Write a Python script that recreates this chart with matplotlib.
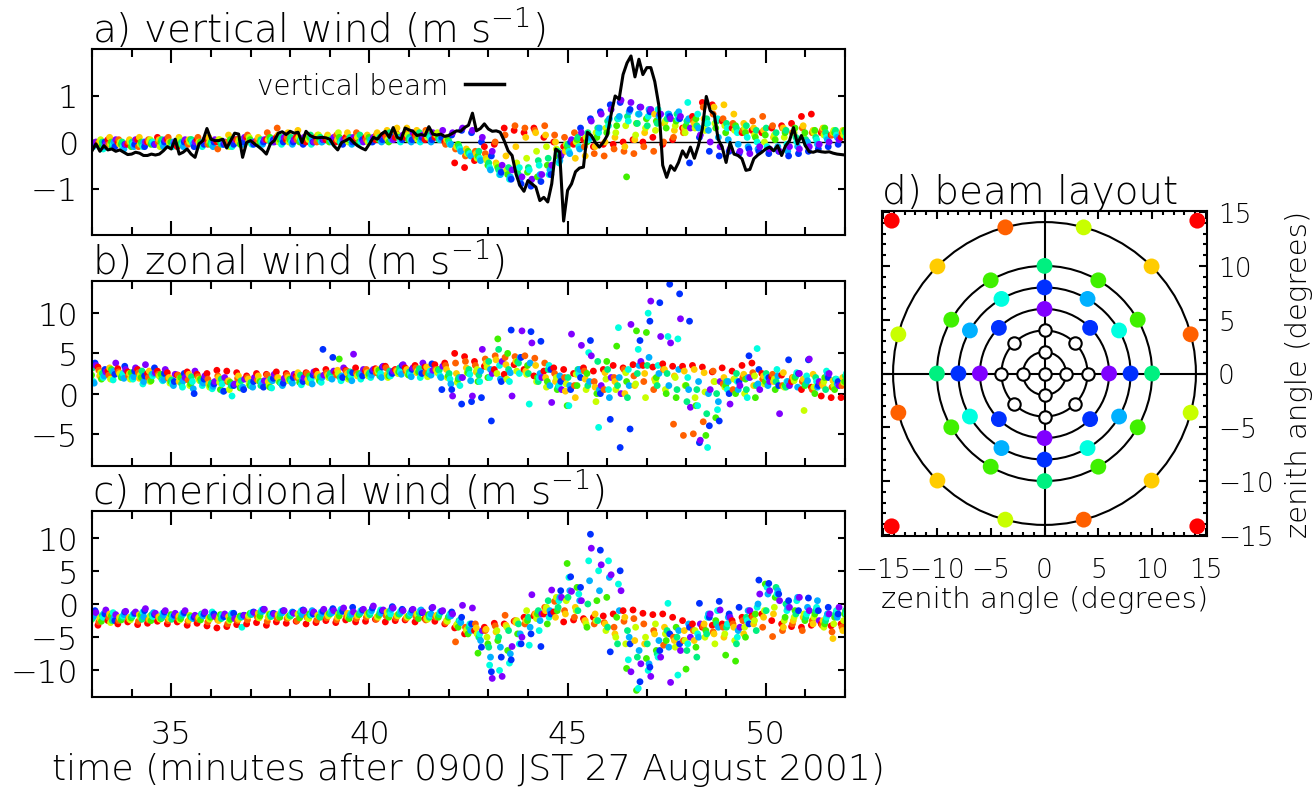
"""
Vento medido por feixes de radar (MU radar) - 27 agosto 2001
Tres series temporais (vertical, zonal, meridional) + layout dos feixes
"""

import numpy as np
import matplotlib
matplotlib.use("Agg")
import matplotlib.pyplot as plt
from matplotlib.lines import Line2D
from matplotlib.patches import Circle
from matplotlib.ticker import MultipleLocator, NullLocator

plt.rcParams['font.family'] = ['DejaVu Sans']
plt.rcParams['font.weight'] = 'light'
plt.rcParams['axes.titleweight'] = 'light'
plt.rcParams['axes.labelweight'] = 'light'
plt.rcParams['mathtext.fontset'] = 'dejavusans'

# ============================================================================
# DADOS
# ============================================================================
# feixe vertical (linha preta), cm/s, a cada 0.1 min a partir de 33.0
LINE_T0, LINE_DT = 33.0, 0.1
vertical_beam = [
    -19, -4, -20, -8, -17, -15, -20, -17, -22, -27,
    -26, -22, -24, -29, -29, -26, -28, -26, -19, -10,
    -15, 6, -26, -22, -15, -26, -33, -4, 3, 29,
    6, 3, 3, 6, -13, 3, 19, 17, -33, -1,
    3, -4, -10, -17, -26, -4, 3, 19, 22, 16,
    23, 19, 21, -1, 23, 14, 10, 9, 10, 9,
    6, -8, -17, -1, 3, 8, -1, -8, -13, -17,
    -4, 10, 6, 17, 23, 10, 31, 10, 6, 30,
    26, 23, 14, 16, 14, 33, 17, 15, 17, 12,
    14, 19, 24, 23, 31, 36, 62, 24, 29, 39,
    28, 23, 24, 21, 3, -19, -29, -69, -94, -106,
    -83, -90, -97, -126, -119, -129, -90, -15, -22, -170,
    -104, -90, -64, -56, -54, 21, 14, -1, -11, -1,
    14, 60, 99, 92, 145, 170, 185, 140, 178, 145,
    160, 160, 130, 80, -50, -76, -51, -61, -44, -19,
    -33, -11, -35, -8, 28, 98, 67, 60, 6, -11,
    -44, -1, -26, -29, -36, -61, -59, -36, -28, -22,
    -15, -11, -19, -8, -29, -8, 3, 31, -4, 14,
    -8, -21, -22, -19, -21, -22, -21, -24, -26, -27,
    -28,
]

# pontos dos feixes obliquos: a cada 0.25 min a partir de 33.0
DOT_T0, DOT_DT = 33.0, 0.25
beam_colors = ['#ff0000', '#ff6000', '#ffcc00', '#c8ff00', '#40f000',
               '#00f080', '#00ffe0', '#00b0ff', '#0030ff', '#8000ff']

# a) vento vertical, cm/s (uma linha por cor)
vert_dots = [
    [0, -5, 5, 0, -5, 5, 0, 10, 5, -10, 0, 5, 5, 0, -5, 5, 10, 0, 5, 10, 5, 10, 0, 10, 5, 0, 10, 5, 10, 5, 15, 10, 10, 15, 5, 10,
     0, -45, -55, -40, -10, -5, 30, 25, 20, 30, 10, 0, -10, -5, 5, -10, -5, -5, 0, 5, 0, 10, -5, 5, 30, 55, 85, 80, 45, 30, 20, 25,
     20, 30, 35, 40, 55, 60, 20, 15, 10],
    [-10, 0, -5, 5, 0, -10, 5, 0, 10, 0, -5, 10, -5, -15, 0, 5, 15, 5, 20, 30, 10, 5, 15, 0, 10, 15, 5, 20, 5, 15, 10, 20, 20, 10, 25, 15,
     -5, -15, -30, -20, -25, 0, 15, 35, 30, 25, 35, 15, 10, 20, -10, -25, -30, -15, -20, -25, -10, -20, 0, 10, 20, 45, 75, 60, 50, 40, 25, 45,
     55, 35, 30, 20, 30, 20, 25, 15, 20],
    [5, 0, 10, -5, 5, 10, 0, 5, 0, 10, 5, 0, 10, 5, 15, 0, 0, 10, 5, 15, 20, 25, 10, 15, 15, 5, 20, 10, 15, 20, 25, 30, 30, 25, 20, 15,
     5, -10, -15, -25, -35, -45, -30, -10, 10, 20, 15, 0, -20, -35, -30, -10, 0, 10, -10, 5, 20, 60, 40, 25, 30, 40, 50, 75, 80, 60, 40, 30,
     25, 10, 30, 20, 35, 25, 30, 20, 25],
    [-10, 5, -5, 0, 0, -5, 5, -10, -5, 5, 0, -5, 0, 5, -10, 5, 10, -5, 5, 0, 0, 10, 5, 15, 10, 20, 0, 10, 0, 10, 5, 15, 15, 5, 10, 20,
     10, -10, -25, -35, -40, -50, -60, -45, -35, -20, -10, -15, -5, 0, 10, 20, 30, 20, 35, 15, 30, 25, 45, 35, 20, 30, 25, 40, 35, 25, 30, 15,
     0, 15, 10, 20, 10, 20, 15, 25, 15],
    [0, -10, 0, -5, -10, 0, -5, 0, 0, -5, 5, 0, -5, 0, 5, -5, 5, 0, 10, 5, 5, 0, 10, 5, 0, 10, 5, 0, 10, 5, 0, 10, 5, 10, 15, 10,
     5, -5, -20, -30, -50, -55, -70, -60, -65, -75, -50, -30, -10, 5, 0, 10, 20, 35, -75, 40, 50, 45, 30, 45, 35, 50, 40, 30, 20, 35, 20, 10,
     15, 5, 20, 30, 20, 25, 30, 20, 25],
    [-5, 0, -10, 0, 0, -5, 0, 5, -10, 0, 5, -5, 0, -5, 0, 5, 0, 5, 0, 10, 10, 5, 15, 10, 5, 0, 10, 15, 5, 10, 20, 10, 10, 20, 15, 5,
     0, -10, -25, -20, -45, -60, -55, -70, -55, -40, -35, -20, -5, 10, 20, 30, 45, 50, 55, 40, 35, 40, 50, 60, 45, 35, 50, 45, 40, 30, 35, 25,
     30, 20, 25, 10, 5, 10, 20, 25, 20],
    [-10, -15, -5, -10, -5, -10, 0, -5, -10, -5, 0, -10, -5, 0, -10, 0, -5, 0, 5, -5, 0, 5, -5, 0, 5, 0, 5, 0, 0, 5, 10, 0, 5, 0, 10, 5,
     -5, -15, -25, -35, -55, -70, -80, -55, -60, -50, -70, -45, -20, -10, 5, 20, 35, 50, 45, 60, 55, 70, 60, 50, 85, 60, 40, 50, 30, 20, 10, 0,
     -10, -15, -5, 0, -5, 5, 10, 15, 10],
    [-5, -10, 0, -15, -10, 0, -5, -10, 0, -10, -5, 0, -10, -5, 0, -5, 0, -5, 0, 5, -5, 0, 5, 0, 0, 5, -5, 5, 5, 0, 5, 10, 0, 5, 0, 5,
     -5, -20, -30, -40, -60, -70, -75, -80, -85, -70, -60, -40, -25, -15, 10, 30, 50, 55, 65, 60, 70, 55, 60, 65, 50, 30, 25, 10, 5, -5, -10, -15,
     -15, -10, -20, -10, 0, -5, 5, 10, 5],
    [-5, 0, -10, -5, -5, -10, -5, 0, -5, 0, -10, -5, 0, -5, -5, 0, -5, 0, 5, 0, 0, -5, 0, 5, 5, -5, 0, 5, 0, 5, 10, 5, 5, 10, 5, 10,
     15, 25, 20, 0, -30, -65, -80, -90, -95, -85, -70, -30, 0, 30, 50, 65, 80, 85, 70, 75, 65, 60, 55, 50, -45, 10, -20, -30, -20, -25, -15, -20,
     -25, -20, -30, -25, -20, -15, -10, -5, -5],
    [0, -5, 5, -5, 5, 0, -5, 5, 0, 5, 0, 5, 5, 0, 5, 10, 0, 5, 0, 10, 5, 10, 0, 5, 10, 5, 10, 0, 10, 15, 5, 15, 20, 15, 20, 25,
     20, 30, 25, 10, -20, -50, -60, -75, -80, -70, -50, -25, 5, 20, 45, 60, 70, 90, 85, 75, 70, 60, 50, 55, 30, 15, 0, -10, -15, -20, -25, -10,
     -15, -20, -10, -15, -10, -5, 0, 5, 5],
]

# b) vento zonal, dm/s
zonal_dots = [
    [30, 33, 28, 31, 27, 30, 25, 28, 26, 23, 27, 24, 25, 29, 28, 26, 22, 25, 24, 27, 25, 22, 26, 28, 30, 26, 29, 32, 28, 31, 34, 30,
     32, 35, 33, 36, 38, 50, 46, 40, 34, 30, 24, 36, 30, 22, 28, 32, 30, 25, 32, 28, 30, 35, 32, 36, 35, 33, 37, 34, 34, 35, 33, 27,
     32, 28, 35, 38, 25, 21, 23, 15, 5, 8, -3, -5, -5],
    [25, 29, 23, 27, 22, 26, 20, 24, 19, 23, 17, 21, 18, 22, 15, 19, 20, 17, 23, 20, 23, 20, 25, 22, 26, 23, 28, 25, 30, 26, 32, 29,
     28, 32, 26, 30, 35, 38, 40, 35, 43, 47, 45, 46, 47, 44, 38, 25, 20, 10, 28, 15, 5, 20, 30, 22, 15, 5, 30, -38, -52, -50, -35, 28,
     12, 5, 20, 26, 18, 24, 10, 20, 15, 5, 12, 8, 10],
    [28, 22, 32, 25, 25, 19, 28, 22, 20, 15, 24, 18, 12, 20, 16, 22, 18, 22, 15, 20, 20, 26, 18, 24, 23, 29, 25, 22, 26, 30, 24, 28,
     30, 26, 33, 29, 30, 25, 32, 27, 38, 42, 36, 40, 28, 35, 20, 15, 3, -5, 18, 8, 26, 15, 0, 10, 25, 18, 30, 22, 28, 30, 26, 15,
     20, 18, 24, 10, 22, 15, 26, 20, 18, 24, 10, 16, 20],
    [20, 26, 18, 24, 18, 23, 15, 21, 13, 19, 10, 16, 8, 14, 5, 12, 12, 16, 10, 15, 16, 21, 14, 19, 20, 25, 18, 23, 22, 27, 20, 25,
     24, 28, 21, 26, 20, 14, 26, 30, 33, 25, 18, 28, 24, 15, 8, 20, 12, 24, 5, -10, 18, 5, 26, 12, -5, 15, 5, 20, 10, -5, 2, 15,
     8, 18, 0, 22, 12, 18, 8, 16, -21, 8, 15, 10, 14],
    [23, 18, 30, 20, 26, 20, 16, 24, 15, 20, 12, 18, 10, 5, 14, 7, 10, 15, 8, 14, 18, 14, 22, 16, 22, 43, 20, 25, 24, 29, 22, 27,
     23, 27, 25, 30, 22, 18, 26, 15, 20, 68, 50, 40, 35, 20, 15, 5, -15, 10, 25, 0, 40, 59, 15, 78, 76, 20, 0, -5, 10, -15, -52, -30,
     10, 0, 18, -5, 15, 5, 10, 20, 10, 0, 20, 5, 15],
    [32, 25, 28, 22, 20, 28, 24, 18, 17, 12, 21, 15, 13, 18, 10, 16, 14, 10, 18, 13, 17, 23, 19, 21, 25, 20, 27, 23, 26, 22, 28, 32,
     27, 31, 25, 29, 25, 20, 30, 23, 40, 55, 30, 38, 25, 15, 30, 8, 20, 30, 10, 40, 30, 10, -5, 25, 35, 10, 25, 5, -10, 5, -25, 0,
     15, 25, 5, 10, 25, 15, 8, 22, 12, 20, 5, 18, 22],
    [15, 20, 17, 25, 18, 12, 22, 16, 12, 8, 15, 10, 6, 12, -3, 8, 9, 14, 7, 12, 15, 11, 18, 14, 19, 16, 22, 18, 20, 25, 22, 27,
     24, 20, 28, 22, 18, 10, 24, 15, 20, 35, 15, 25, -13, 20, 35, 10, -15, 25, 51, -42, 5, 82, 30, 55, 100, 35, 71, 68, 20, -15, -67, -20,
     5, 15, -5, 56, 20, 30, 15, 26, 22, 15, 28, 18, 25],
    [13, 22, 28, 19, 21, 15, 25, 17, 10, 16, 6, 13, 9, 3, 11, 8, 8, 12, 16, 10, 13, 17, 12, 20, 18, 22, 16, 25, 23, 20, 26, 24,
     21, 26, 23, 20, 12, 20, 16, 28, 30, 18, 26, 45, 38, 25, 10, 22, 10, 30, 15, 5, -5, 20, 10, 35, 45, 25, 10, 30, 5, 15, 0, -10,
     15, 5, 20, 12, 10, 22, 15, 8, 16, 8, 24, 12, 18],
    [38, 30, 24, 34, 28, 22, 32, 25, 15, 25, 0, 18, 12, 3, 10, 5, 15, 8, 19, 13, 20, 15, 23, 55, 45, 20, 26, 22, 28, 33, 25, 35,
     30, 25, 37, 5, 5, -13, -10, -5, -34, 15, 79, 45, 77, 65, 30, 15, 5, 20, 66, 0, -32, -67, -44, 66, 90, 113, 136, 124, 90, -61, -40, -34,
     0, 15, 47, 30, 20, 10, 42, 25, 42, 10, 20, 15, 18],
    [35, 27, 38, 30, 32, 36, 26, 30, 24, 20, 28, 22, 15, 20, 12, 18, 20, 16, 24, 19, 24, 20, 27, 23, 28, 32, 49, 30, 30, 34, 28, 36,
     32, 38, 29, 34, -3, 20, -3, 55, 25, 40, -3, 78, 63, 20, -11, 5, 74, 60, 47, 10, 20, 0, 86, 40, 115, 71, 63, 93, -17, -58, 5, 15,
     -13, 10, 20, 5, 15, -25, 10, 25, 43, 15, 25, 10, 20],
]

# c) vento meridional, dm/s
merid_dots = [
    [-28, -32, -25, -30, -27, -31, -29, -26, -30, -27, -32, -29, -33, -36, -34, -31, -30, -28, -32, -27, -29, -26, -30, -28,
     -25, -28, -24, -27, -26, -23, -27, -25, -24, -27, -22, -26, -30, -36, -45, -40, -35, -29, -30, -26, -20, -18, -15, -12,
     -27, -24, -22, -20, -18, -15, -10, -9, -14, -16, -15, -20, -25, -30, -35, -32, -30, -25, -20, -18, -15, -25, -30, -34,
     -35, -32, -30, -33, -30],
    [-23, -27, -20, -25, -22, -26, -24, -20, -25, -21, -26, -23, -27, -24, -30, -25, -24, -20, -26, -22, -22, -25, -20, -24,
     -21, -24, -19, -22, -20, -23, -18, -21, -22, -19, -24, -20, -28, -57, -35, -30, -40, -33, -17, -25, -30, -15, -5, 4,
     -10, -20, -25, -30, -28, -35, -26, -22, -30, -40, -62, -50, -55, -40, -34, -42, -35, -30, -25, -20, -35, -49, -40, -30,
     -40, -25, -32, -42, -35],
    [-18, -22, -15, -20, -20, -16, -23, -19, -22, -18, -24, -20, -21, -25, -19, -23, -18, -14, -20, -16, -19, -15, -21, -17,
     -16, -20, -14, -18, -15, -19, -12, -17, -19, -15, -21, -17, -25, -32, -40, -36, -38, -42, -32, -28, -25, -15, -10, -20,
     -15, -5, -25, -15, -30, -45, -20, -55, -60, -45, -35, -55, -40, -55, -30, -45, -50, -35, -45, -30, -20, -15, -35, -25,
     -20, -30, -25, -52, -40],
    [-25, -20, -28, -22, -24, -20, -18, -23, -20, -24, -17, -21, -23, -19, -25, -20, -17, -21, -15, -19, -20, -16, -22, -18,
     -18, -15, -20, -16, -17, -20, -15, -18, -20, -16, -23, -19, -26, -30, -38, -45, -50, -40, -35, -25, -10, -22, -5, 10,
     5, -10, -30, -25, -40, -50, -60, -35, -50, -30, -45, -65, -55, -40, -50, -60, -45, -55, -35, -25, -10, -5, -25, -20,
     -15, -20, -35, -30, -25],
    [-20, -26, -18, -24, -21, -17, -25, -22, -16, -22, -19, -24, -20, -16, -23, -18, -14, -18, -16, -20, -17, -21, -15, -19,
     -14, -18, -22, -16, -13, -17, -20, -15, -18, -22, -16, -20, -20, -35, -45, -74, -60, -55, -70, -45, -25, -15, -30, -10,
     61, 25, -35, 5, 10, -20, -97, -130, -82, -70, -55, -35, -98, -65, -40, -25, -77, -86, -50, -15, 30, 10, -20, -10,
     -25, -15, -30, -20, -15],
    [-22, -17, -25, -20, -19, -23, -16, -21, -23, -18, -20, -15, -18, -22, -16, -20, -16, -12, -19, -15, -18, -13, -17, -20,
     -15, -12, -17, -14, -16, -13, -11, -15, -17, -14, -20, -16, -18, -25, -35, -50, -65, -50, -40, -30, -20, -10, 5, -5,
     10, -10, 0, -25, -35, -60, -40, -80, -60, -75, -40, -50, -70, -80, -45, -30, -35, -60, -20, -40, -10, 25, 0, -15,
     -20, -10, -25, -15, -10],
    [-15, -20, -13, -18, -16, -12, -19, -14, -18, -14, -21, -16, -12, -17, -14, -35, -13, -9, -15, -11, -14, -10, -16, -12,
     -11, -8, -14, -10, -12, -9, -15, -11, -14, -10, -17, -12, -15, -25, -30, -45, -92, -100, -89, -60, -62, -40, -20, 5,
     40, 15, 65, 50, 65, 30, -84, -127, -100, -80, 1, -107, -60, -45, -20, -10, -30, -50, -25, -5, 25, 15, -10, 5,
     -15, -5, -20, -10, -15],
    [-18, -14, -21, -16, -15, -19, -13, -17, -19, -15, -22, -18, -16, -20, -15, -19, -15, -11, -17, -13, -12, -16, -10, -14,
     -13, -9, -15, -11, -10, -14, -8, -12, -13, -9, -15, -11, -18, -28, -40, -55, -80, -65, -75, -45, -35, -25, -10, 10,
     20, 5, 35, 20, 40, -10, -50, -70, -90, -55, -65, -40, -30, -50, -15, -35, -20, -40, -10, 0, 15, 20, -5, 10,
     -5, 5, -15, -20, -5],
    [-10, -15, -25, -12, -14, -10, -16, -12, -17, -13, -20, -15, -15, -19, -14, -17, -12, -8, -14, -10, -13, -9, -15, -11,
     -7, -11, -5, -9, -6, -10, -4, -8, -9, -13, -6, -11, -12, -20, -30, -65, -102, -80, -84, -60, -45, -64, -15, 20,
     41, 25, 105, 81, -72, 50, -60, -117, -95, -70, -45, -60, -35, 1, -20, 4, -15, -5, -30, 36, 31, 15, 5, -10,
     9, -10, -5, -15, -10],
    [-13, -9, -16, -11, -12, -7, -14, -10, -14, -10, -17, -12, -19, -15, -22, -17, -13, -8, -15, -10, -14, -10, -12, -8,
     -10, -6, -12, -8, -3, -9, -6, -10, -8, -12, -5, -10, -15, -2, -6, -40, -112, -109, -64, -50, 14, -15, 21, 10,
     19, 5, 84, 59, 44, 20, -102, -90, -109, -80, -118, -70, -50, -30, -15, -9, -20, -35, -10, 15, 20, 5, -5, 10,
     -10, -25, -15, -5, -10],
]

# d) layout dos feixes (angulo zenital, graus) e indice da cor
beam_x = [0, 0, 6, -6,
          0, 0, 8, -8, 4.24, -4.24, 4.24, -4.24,
          0, 0, 10, -10,
          -4, 6.93, -6.93, 4,
          4, -6.93, 6.93, -4,
          5, -5, 5, -5, 8.66, -8.66, 8.66, -8.66,
          9.95, -9.95, 9.95, -9.95,
          -3.64, 13.58, -13.58, 3.64,
          3.64, -13.58, 13.58, -3.64,
          14.2, -14.2, 14.2, -14.2]
beam_y = [6, -6, 0, 0,
          8, -8, 0, 0, 4.24, 4.24, -4.24, -4.24,
          10, -10, 0, 0,
          6.93, 4, -4, -6.93,
          6.93, 4, -4, -6.93,
          8.66, 8.66, -8.66, -8.66, 5, 5, -5, -5,
          9.95, 9.95, -9.95, -9.95,
          13.58, 3.64, -3.64, -13.58,
          13.58, 3.64, -3.64, -13.58,
          14.2, 14.2, -14.2, -14.2]
beam_c = [9] * 4 + [8] * 8 + [5] * 4 + [6] * 4 + [7] * 4 + [4] * 8 + [2] * 4 + [1] * 4 + [3] * 4 + [0] * 4
open_x = [0, 2, -2, 0, 0, 4, -4, 0, 0, 2.83, -2.83, 2.83, -2.83]
open_y = [0, 0, 0, 2, -2, 0, 0, 4, -4, 2.83, 2.83, -2.83, -2.83]
ring_radii = [2, 4, 6, 8, 10, 14.07]

# ============================================================================
# FIGURA
# ============================================================================
fig = plt.figure(figsize=(13.14, 8.03), dpi=100)
W, H = 1314, 803


def box(left, top, right, bottom):
    return [left / W, (H - bottom) / H, (right - left) / W, (bottom - top) / H]


ax_a = fig.add_axes(box(92, 50, 845, 236))
ax_b = fig.add_axes(box(92, 282, 845, 467))
ax_c = fig.add_axes(box(92, 512, 845, 698))
ax_d = fig.add_axes(box(882, 212, 1207, 537))


def scatter_beams(ax, rows, scale):
    # intercala as cores no tempo para que nenhuma fique sempre por cima
    xs, ys, cs = [], [], []
    n = max(len(r) for r in rows)
    for j in range(n):
        for k, row in enumerate(rows):
            if j < len(row):
                xs.append(DOT_T0 + DOT_DT * j + (k - 4.5) * 0.022)
                ys.append(row[j] * scale)
                cs.append(beam_colors[k])
    ax.scatter(xs, ys, s=24, c=cs, linewidths=0, zorder=2)


def style_time_axis(ax, ylim, yticks, title):
    ax.set_xlim(33, 52)
    ax.set_ylim(*ylim)
    ax.set_yticks(yticks)
    ax.xaxis.set_major_locator(MultipleLocator(5))
    ax.xaxis.set_minor_locator(MultipleLocator(1))
    ax.yaxis.set_minor_locator(NullLocator())
    ax.tick_params(which='both', direction='in', top=True, right=True,
                   width=1.5, labelsize=23, color='black')
    ax.tick_params(axis='x', which='major', length=10, pad=16)
    ax.tick_params(axis='x', which='minor', length=6)
    ax.tick_params(axis='y', which='major', length=5, pad=10)
    for sp in ax.spines.values():
        sp.set_linewidth(1.5)
    ax.set_title(title, loc='left', fontsize=28, pad=1)


# a) vento vertical
ax_a.axhline(0, color='black', lw=1, zorder=1.5)
scatter_beams(ax_a, vert_dots, 0.01)
t_line = LINE_T0 + LINE_DT * np.arange(len(vertical_beam))
ax_a.plot(t_line, np.array(vertical_beam) * 0.01, color='black', lw=2.2, zorder=3)
style_time_axis(ax_a, (-2, 2), [-1, 0, 1], 'a) vertical wind (m s$^{-1}$)')
ax_a.tick_params(labelbottom=False)
handle = Line2D([], [], color='black', lw=2.5)
ax_a.legend([handle], ['vertical beam'], loc='center', bbox_to_anchor=(0.383, 0.80),
            frameon=False, markerfirst=False, fontsize=20, handlelength=1.4,
            handletextpad=0.6, borderpad=0)

# b) vento zonal
scatter_beams(ax_b, zonal_dots, 0.1)
style_time_axis(ax_b, (-9, 14), [-5, 0, 5, 10], 'b) zonal wind (m s$^{-1}$)')
ax_b.tick_params(labelbottom=False)

# c) vento meridional
scatter_beams(ax_c, merid_dots, 0.1)
style_time_axis(ax_c, (-14, 14), [-10, -5, 0, 5, 10], 'c) meridional wind (m s$^{-1}$)')
ax_c.set_xlabel('time (minutes after 0900 JST 27 August 2001)', fontsize=26, labelpad=2)

# d) layout dos feixes
ax_d.axhline(0, color='black', lw=1.5, zorder=1)
ax_d.axvline(0, color='black', lw=1.5, zorder=1)
for r in ring_radii:
    ax_d.add_patch(Circle((0, 0), r, fill=False, color='black', lw=1.5, zorder=1))
ax_d.scatter(beam_x, beam_y, s=130, c=[beam_colors[i] for i in beam_c], linewidths=0, zorder=3)
ax_d.scatter(open_x, open_y, s=80, facecolors='white', edgecolors='black', linewidths=1.5, zorder=3)
ax_d.set_xlim(-15.1, 15.1)
ax_d.set_ylim(-15.1, 15.1)
ax_d.set_aspect('equal')
ticks = [-15, -10, -5, 0, 5, 10, 15]
ax_d.set_xticks(ticks)
ax_d.set_yticks(ticks)
ax_d.xaxis.set_minor_locator(MultipleLocator(1))
ax_d.yaxis.set_minor_locator(MultipleLocator(1))
ax_d.tick_params(which='both', direction='in', top=True, right=True, left=True,
                 labelleft=False, labelright=True, width=1.5, labelsize=19)
ax_d.tick_params(which='major', length=6)
ax_d.tick_params(which='minor', length=3)
ax_d.tick_params(axis='x', pad=15)
ax_d.tick_params(axis='y', pad=8)
for sp in ax_d.spines.values():
    sp.set_linewidth(1.5)
ax_d.yaxis.set_label_position('right')
ax_d.set_xlabel('zenith angle (degrees)', fontsize=21, labelpad=2)
ax_d.set_ylabel('zenith angle (degrees)', fontsize=21, labelpad=8, rotation=90)
ax_d.set_title('d) beam layout', loc='left', fontsize=28, pad=1)

fig.savefig('out.png', dpi=100)
print("ok")
